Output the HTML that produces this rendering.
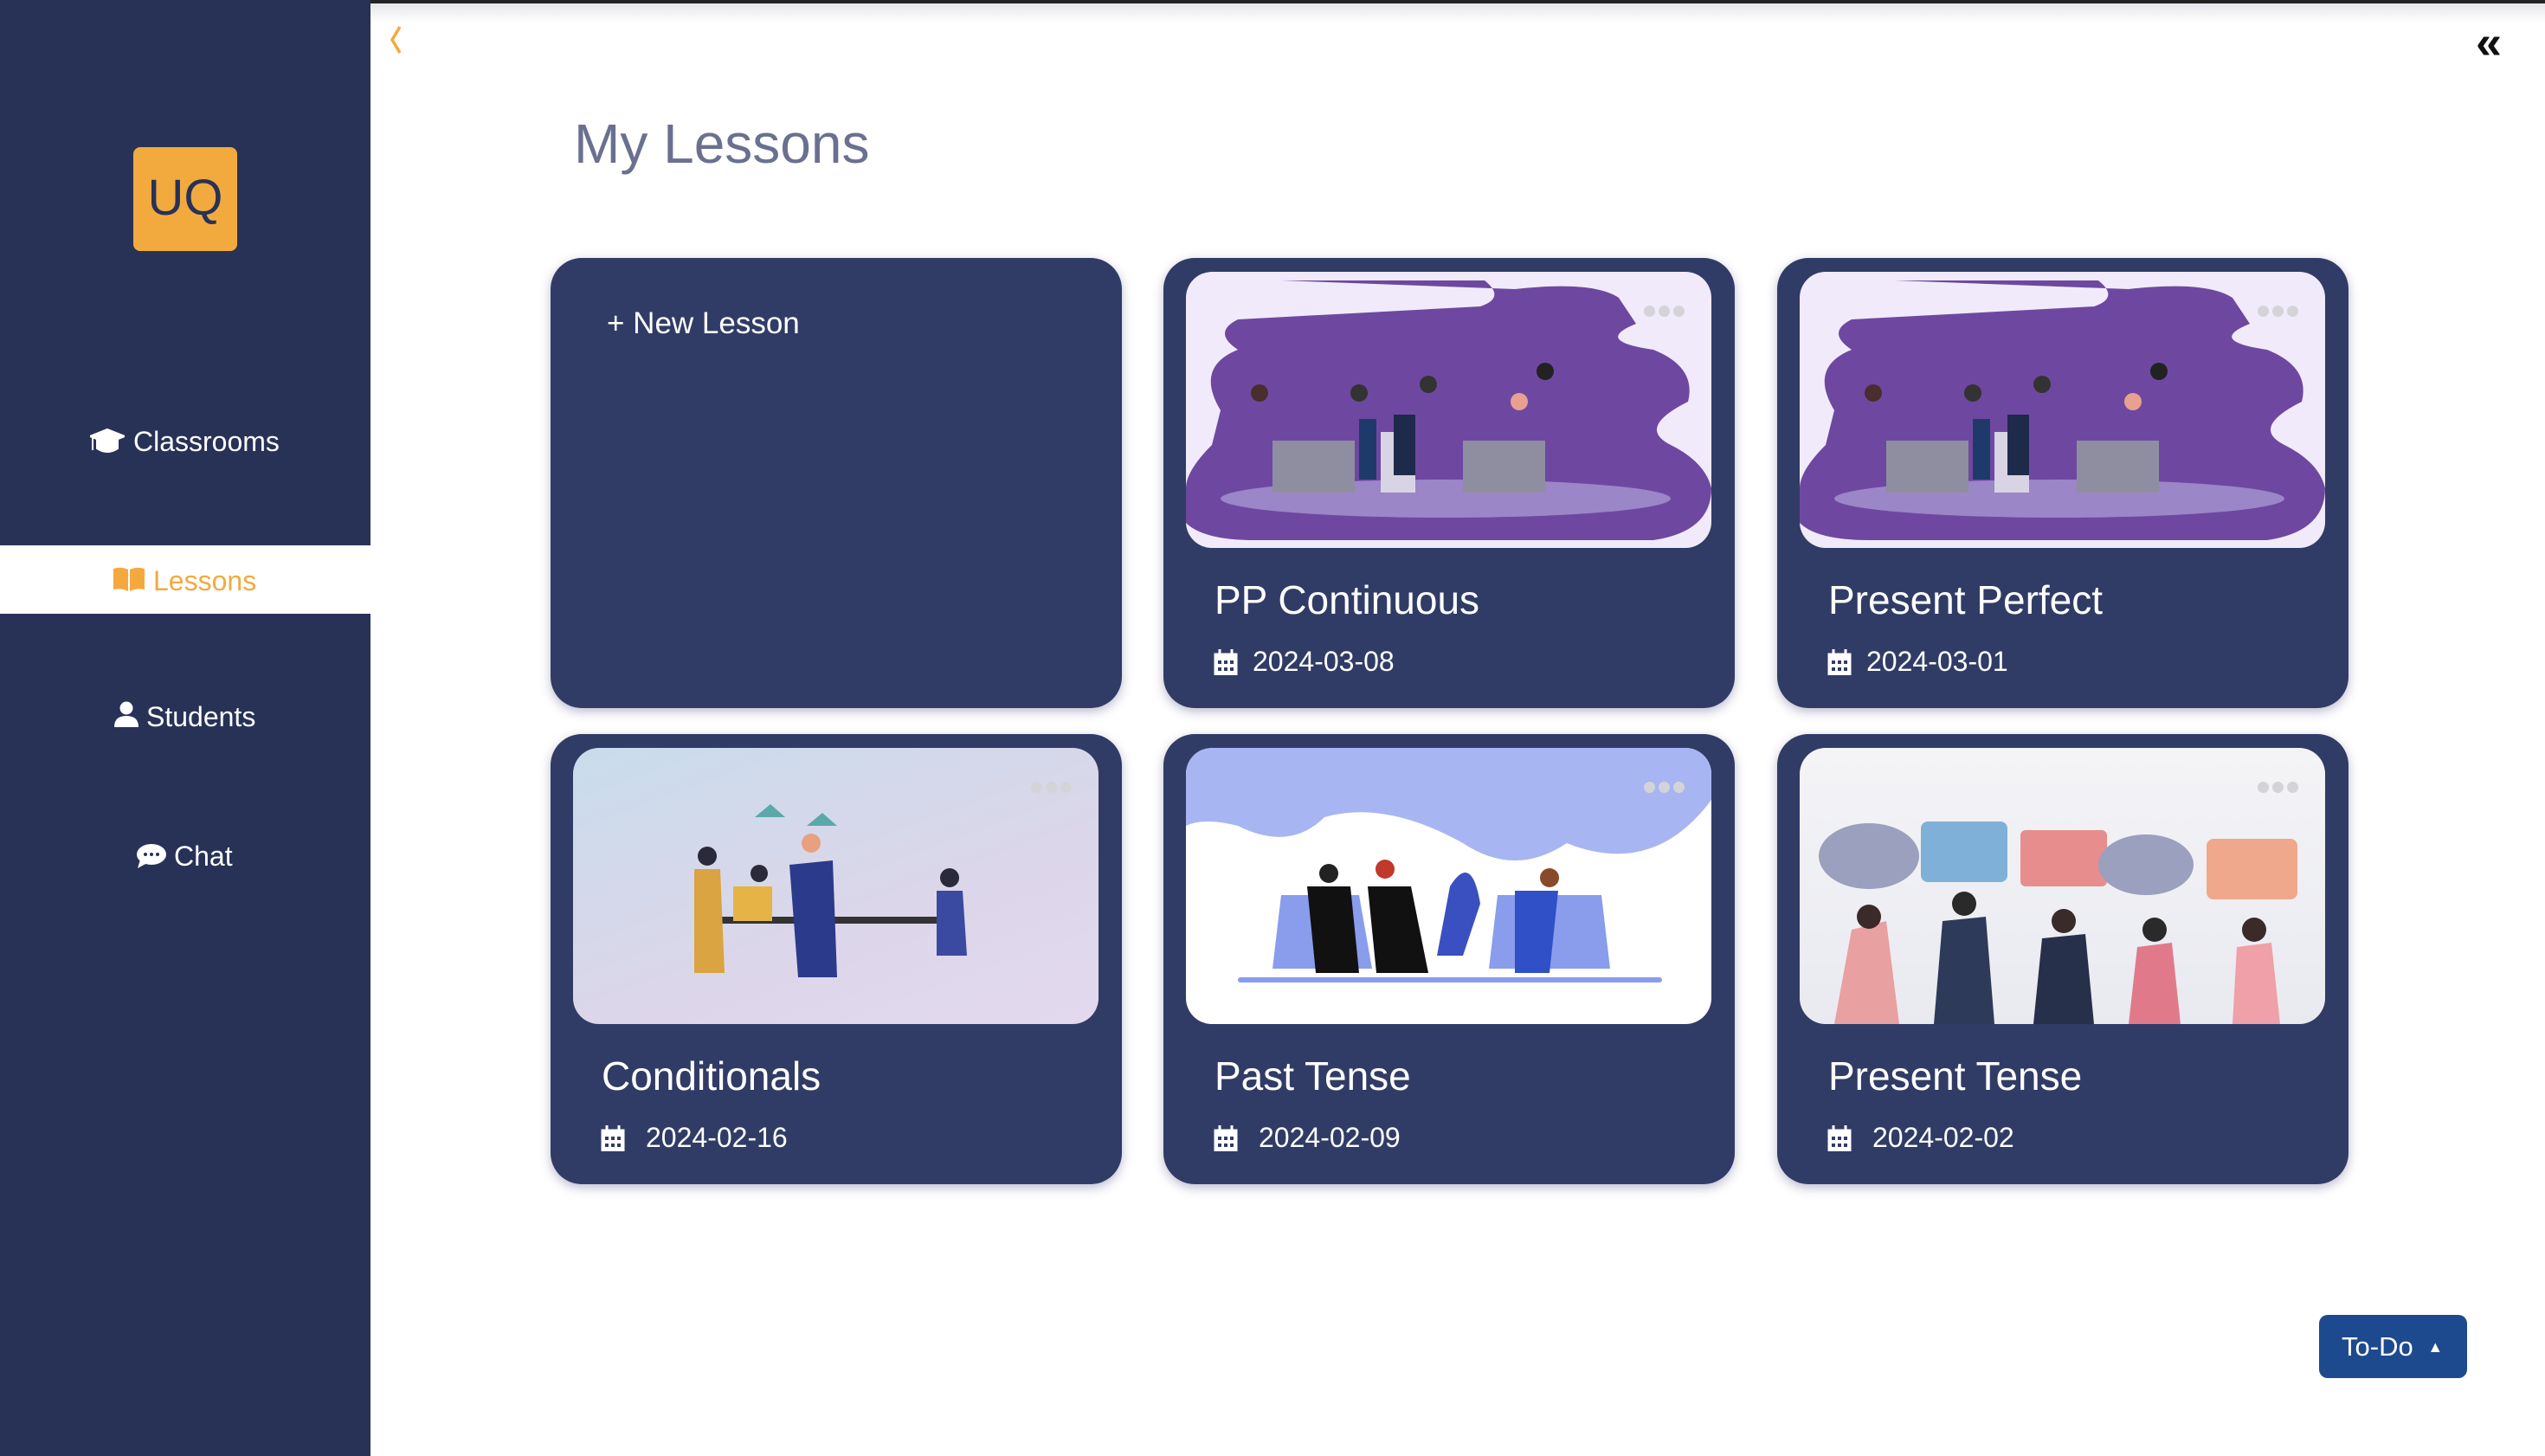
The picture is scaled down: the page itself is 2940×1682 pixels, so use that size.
<!DOCTYPE html>
<html><head><meta charset="utf-8"><style>
*{margin:0;padding:0;box-sizing:border-box}
body{width:2940px;height:1682px;background:#fff;font-family:"Liberation Sans",sans-serif;position:relative;overflow:hidden}
.abs{position:absolute}
#side{left:0;top:0;width:428px;height:1682px;background:#283257}
.nav{position:absolute;font-size:32px;color:#fff;white-space:nowrap;line-height:1}
.card{position:absolute;width:660px;height:520px;background:#313c66;border-radius:36px;box-shadow:0 4px 12px rgba(60,60,120,.35)}
.img{position:absolute;left:26px;top:16px;width:607px;height:319px;border-radius:30px;overflow:hidden}
.ttl{position:absolute;left:59px;top:372px;font-size:46px;color:#fff;line-height:1}
.dt{position:absolute;left:103px;top:450px;font-size:32px;color:#fff;line-height:1}
.cal{position:absolute;left:58px;top:452px;width:28px;height:30px}
.dots{position:absolute;right:58px;top:55px}
.dots i{display:inline-block;width:13px;height:13px;border-radius:50%;background:#d4d4d8;margin-left:4px}
</style></head><body>
<div class="abs" style="left:0;top:0;width:2940px;height:4px;background:#222"></div>
<div class="abs" style="left:428px;top:4px;width:2512px;height:22px;background:linear-gradient(#e6e6ea,#fff)"></div>
<div id="side" class="abs">
  <div class="abs" style="left:154px;top:170px;width:120px;height:120px;background:#f2aa3e;border-radius:8px;color:#283257;font-size:58px;text-align:center;line-height:118px">UQ</div>
  <div class="abs" style="left:0;top:630px;width:428px;height:79px;background:#fff"></div>
  <svg class="abs" style="left:104px;top:494px" width="40" height="30" viewBox="0 0 40 30"><path d="M20 2 L40 10 L20 18 L0 10Z M8 14 L8 24 Q20 32 32 24 L32 14 L20 20Z M3 11 L3 26" fill="#fff" stroke="#fff" stroke-width="2"/></svg>
  <div class="nav" style="left:154px;top:494px">Classrooms</div>
  <svg class="abs" style="left:131px;top:655px" width="36" height="28" viewBox="0 0 36 28"><path d="M0 2 Q9 -1 17 3 L17 28 Q9 24 0 26Z M19 3 Q27 -1 36 2 L36 26 Q27 24 19 28Z" fill="#f4a93e"/></svg>
  <div class="nav" style="left:177px;top:655px;color:#f4a93e">Lessons</div>
  <svg class="abs" style="left:132px;top:810px" width="28" height="30" viewBox="0 0 28 30"><circle cx="14" cy="8" r="7.5" fill="#fff"/><path d="M0 30 Q0 17 14 17 Q28 17 28 30Z" fill="#fff"/></svg>
  <div class="nav" style="left:169px;top:812px">Students</div>
  <svg class="abs" style="left:158px;top:975px" width="34" height="28" viewBox="0 0 34 28"><ellipse cx="17" cy="12" rx="17" ry="12" fill="#fff"/><path d="M4 18 L1 28 L12 22Z" fill="#fff"/><circle cx="10" cy="12" r="2" fill="#283257"/><circle cx="17" cy="12" r="2" fill="#283257"/><circle cx="24" cy="12" r="2" fill="#283257"/></svg>
  <div class="nav" style="left:201px;top:973px">Chat</div>
</div>
<svg class="abs" style="left:448px;top:28px" width="20" height="36" viewBox="0 0 20 36"><path d="M14 3 L5 18 L14 33" stroke="#f4a93e" stroke-width="3.5" fill="none"/></svg>
<div class="abs" style="left:2860px;top:22px;font-size:54px;color:#111;line-height:1;font-weight:bold">«</div>
<div class="abs" style="left:663px;top:134px;font-size:64px;color:#6a7090;line-height:1">My Lessons</div>

<div class="card" style="left:636px;top:298px">
  <div class="abs" style="left:65px;top:58px;font-size:35px;color:#fff;line-height:1">+ New Lesson</div>
</div>

<div class="card" style="left:1344px;top:298px">
  <div class="img" style="background:#f1eafb"><svg width="607" height="319"><path d="M110 10 L345 10 Q370 30 340 40 L60 55 Q30 70 60 90 Q10 110 40 160 L30 200 Q0 230 0 250 L0 290 Q20 310 80 310 L540 310 Q607 300 607 250 Q600 220 560 200 Q520 180 580 150 Q590 110 540 90 Q470 80 520 60 L500 30 Q470 10 380 20 Z" fill="#6e48a0"/><ellipse cx="300" cy="262" rx="260" ry="22" fill="#9b86c8"/><rect x="100" y="195" width="95" height="60" fill="#8e8ea0"/><rect x="320" y="195" width="95" height="60" fill="#8e8ea0"/><rect x="225" y="185" width="40" height="70" fill="#d8d4e4"/><circle cx="85" cy="140" r="10" fill="#4a2d2d"/><circle cx="200" cy="140" r="10" fill="#333"/><circle cx="280" cy="130" r="10" fill="#333"/><circle cx="385" cy="150" r="10" fill="#e8a090"/><circle cx="415" cy="115" r="10" fill="#222"/><rect x="240" y="165" width="25" height="70" fill="#1e2a4a"/><rect x="200" y="170" width="20" height="70" fill="#1e3a6a"/></svg></div>
  <div class="dots"><i></i><i></i><i></i></div>
  <div class="ttl">PP Continuous</div>
  <svg class="cal" viewBox="0 0 28 30"><path d="M2 6 H26 V30 H2Z M7 0 V8 M21 0 V8" fill="#fff" stroke="#fff" stroke-width="3"/><g fill="#313c66"><rect x="5" y="13" width="4" height="4"/><rect x="12" y="13" width="4" height="4"/><rect x="19" y="13" width="4" height="4"/><rect x="5" y="21" width="4" height="4"/><rect x="12" y="21" width="4" height="4"/><rect x="19" y="21" width="4" height="4"/></g></svg>
  <div class="dt">2024-03-08</div>
</div>

<div class="card" style="left:2053px;top:298px">
  <div class="img" style="background:#f1eafb"><svg width="607" height="319"><path d="M110 10 L345 10 Q370 30 340 40 L60 55 Q30 70 60 90 Q10 110 40 160 L30 200 Q0 230 0 250 L0 290 Q20 310 80 310 L540 310 Q607 300 607 250 Q600 220 560 200 Q520 180 580 150 Q590 110 540 90 Q470 80 520 60 L500 30 Q470 10 380 20 Z" fill="#6e48a0"/><ellipse cx="300" cy="262" rx="260" ry="22" fill="#9b86c8"/><rect x="100" y="195" width="95" height="60" fill="#8e8ea0"/><rect x="320" y="195" width="95" height="60" fill="#8e8ea0"/><rect x="225" y="185" width="40" height="70" fill="#d8d4e4"/><circle cx="85" cy="140" r="10" fill="#4a2d2d"/><circle cx="200" cy="140" r="10" fill="#333"/><circle cx="280" cy="130" r="10" fill="#333"/><circle cx="385" cy="150" r="10" fill="#e8a090"/><circle cx="415" cy="115" r="10" fill="#222"/><rect x="240" y="165" width="25" height="70" fill="#1e2a4a"/><rect x="200" y="170" width="20" height="70" fill="#1e3a6a"/></svg></div>
  <div class="dots"><i></i><i></i><i></i></div>
  <div class="ttl">Present Perfect</div>
  <svg class="cal" viewBox="0 0 28 30"><path d="M2 6 H26 V30 H2Z M7 0 V8 M21 0 V8" fill="#fff" stroke="#fff" stroke-width="3"/><g fill="#313c66"><rect x="5" y="13" width="4" height="4"/><rect x="12" y="13" width="4" height="4"/><rect x="19" y="13" width="4" height="4"/><rect x="5" y="21" width="4" height="4"/><rect x="12" y="21" width="4" height="4"/><rect x="19" y="21" width="4" height="4"/></g></svg>
  <div class="dt">2024-03-01</div>
</div>

<div class="card" style="left:636px;top:848px">
  <div class="img" style="background:linear-gradient(160deg,#c9dceb,#dcd6ea 60%,#e3d9ef)"><svg width="607" height="319"><path d="M210 80 L245 80 L228 65Z M270 90 L305 90 L288 75Z" fill="#5aa8a8"/><rect x="150" y="195" width="300" height="8" fill="#333"/><path d="M140 140 L170 140 L175 260 L140 260Z" fill="#d9a441"/><path d="M250 135 L300 130 L305 265 L260 265Z" fill="#2c3a8c"/><path d="M185 160 L230 160 L230 200 L185 200Z" fill="#e6b347"/><path d="M420 165 L450 165 L455 240 L420 240Z" fill="#3a4aa0"/><circle cx="155" cy="125" r="11" fill="#2a2a3a"/><circle cx="275" cy="110" r="11" fill="#e8a080"/><circle cx="435" cy="150" r="11" fill="#2a2a3a"/><circle cx="215" cy="145" r="10" fill="#2a2a3a"/></svg></div>
  <div class="dots"><i></i><i></i><i></i></div>
  <div class="ttl">Conditionals</div>
  <svg class="cal" viewBox="0 0 28 30"><path d="M2 6 H26 V30 H2Z M7 0 V8 M21 0 V8" fill="#fff" stroke="#fff" stroke-width="3"/><g fill="#313c66"><rect x="5" y="13" width="4" height="4"/><rect x="12" y="13" width="4" height="4"/><rect x="19" y="13" width="4" height="4"/><rect x="5" y="21" width="4" height="4"/><rect x="12" y="21" width="4" height="4"/><rect x="19" y="21" width="4" height="4"/></g></svg>
  <div class="dt" style="left:110px">2024-02-16</div>
</div>

<div class="card" style="left:1344px;top:848px">
  <div class="img" style="background:#fff"><svg width="607" height="319"><path d="M0 0 L607 0 L607 60 Q540 150 440 110 Q380 150 320 110 Q230 60 160 80 Q120 120 60 90 Q20 80 0 90Z" fill="#a7b5f2"/><path d="M110 170 L200 170 L215 255 L100 255Z M360 170 L480 170 L490 255 L350 255Z" fill="#8a9cec"/><rect x="60" y="265" width="490" height="6" rx="3" fill="#8a9cec"/><path d="M140 160 L190 160 L200 260 L150 260Z M210 160 L260 160 L280 260 L220 260Z" fill="#111"/><path d="M380 165 L430 165 L420 260 L380 260Z" fill="#3050c8"/><path d="M305 160 Q330 120 340 180 L320 240 L290 240Z" fill="#3a50c0"/><circle cx="165" cy="145" r="11" fill="#222"/><circle cx="230" cy="140" r="11" fill="#c0392b"/><circle cx="420" cy="150" r="11" fill="#8a4a2a"/></svg></div>
  <div class="dots"><i></i><i></i><i></i></div>
  <div class="ttl">Past Tense</div>
  <svg class="cal" viewBox="0 0 28 30"><path d="M2 6 H26 V30 H2Z M7 0 V8 M21 0 V8" fill="#fff" stroke="#fff" stroke-width="3"/><g fill="#313c66"><rect x="5" y="13" width="4" height="4"/><rect x="12" y="13" width="4" height="4"/><rect x="19" y="13" width="4" height="4"/><rect x="5" y="21" width="4" height="4"/><rect x="12" y="21" width="4" height="4"/><rect x="19" y="21" width="4" height="4"/></g></svg>
  <div class="dt" style="left:110px">2024-02-09</div>
</div>

<div class="card" style="left:2053px;top:848px">
  <div class="img" style="background:linear-gradient(#f4f4f7,#e9eaf0)"><svg width="607" height="319"><ellipse cx="80" cy="125" rx="58" ry="38" fill="#9aa0bd"/><rect x="140" y="85" width="100" height="70" rx="8" fill="#7fb1d8"/><rect x="255" y="95" width="100" height="65" rx="6" fill="#e88d8d"/><ellipse cx="400" cy="135" rx="55" ry="35" fill="#9aa0bd"/><rect x="470" y="105" width="105" height="70" rx="8" fill="#f0a88c"/><path d="M40 319 L60 210 L100 200 L115 319Z" fill="#e9a0a0"/><path d="M155 319 L165 200 L215 195 L225 319Z" fill="#2e3a5a"/><path d="M270 319 L280 220 L330 215 L340 319Z" fill="#27304a"/><path d="M380 319 L390 230 L430 225 L440 319Z" fill="#e07a8a"/><path d="M500 319 L505 230 L545 225 L555 319Z" fill="#f0a0a8"/><circle cx="80" cy="195" r="14" fill="#3a2a2a"/><circle cx="190" cy="180" r="14" fill="#2a2a2a"/><circle cx="305" cy="200" r="14" fill="#3a2a2a"/><circle cx="410" cy="210" r="14" fill="#2a2a2a"/><circle cx="525" cy="210" r="14" fill="#3a2a2a"/></svg></div>
  <div class="dots"><i></i><i></i><i></i></div>
  <div class="ttl">Present Tense</div>
  <svg class="cal" viewBox="0 0 28 30"><path d="M2 6 H26 V30 H2Z M7 0 V8 M21 0 V8" fill="#fff" stroke="#fff" stroke-width="3"/><g fill="#313c66"><rect x="5" y="13" width="4" height="4"/><rect x="12" y="13" width="4" height="4"/><rect x="19" y="13" width="4" height="4"/><rect x="5" y="21" width="4" height="4"/><rect x="12" y="21" width="4" height="4"/><rect x="19" y="21" width="4" height="4"/></g></svg>
  <div class="dt" style="left:110px">2024-02-02</div>
</div>

<div class="abs" style="left:2679px;top:1519px;width:171px;height:73px;background:#1d4a8e;border-radius:10px;color:#fff;font-size:31px;line-height:73px;padding-left:26px">To-Do <span style="font-size:18px;vertical-align:4px;margin-left:8px">▲</span></div>
</body></html>
